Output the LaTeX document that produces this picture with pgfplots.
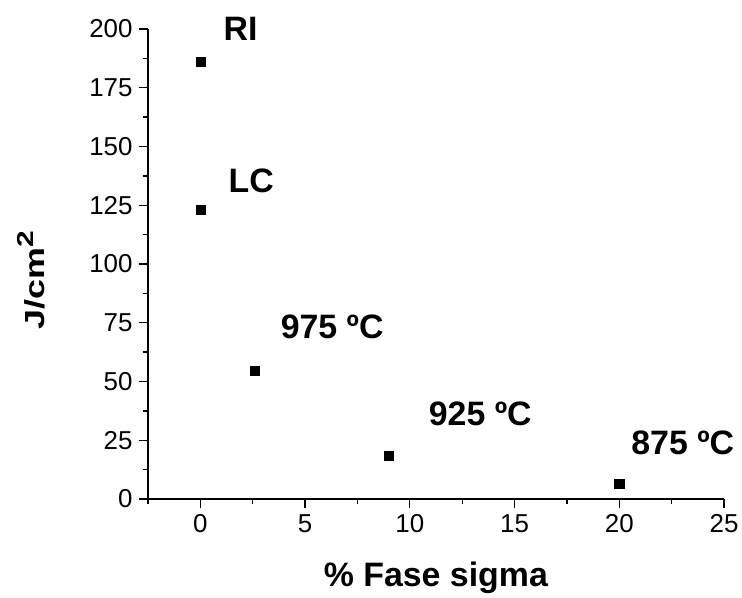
\documentclass[border=0pt]{standalone}
\usepackage{fontspec}
\setmainfont{Liberation Sans}
\usepackage{graphicx}
\usepackage{pgfplots}
\pgfplotsset{compat=1.18}

\begin{document}
\begin{tikzpicture}
\begin{axis}[
  scale only axis,
  width=576bp, height=470bp,
  at={(0,0)}, anchor=south west,
  xmin=-2.5, xmax=25,
  ymin=0, ymax=200,
  axis x line*=bottom,
  axis y line*=left,
  axis line style={line width=1.3bp, -},
  tick align=outside,
  xtick={0,5,...,25},
  ytick={0,25,...,200},
  minor xtick={-2.5,2.5,7.5,12.5,17.5,22.5},
  minor ytick={12.5,37.5,62.5,87.5,112.5,137.5,162.5,187.5},
  major tick length=9bp,
  minor tick length=5bp,
  every tick/.style={line width=1.3bp, black},
  tick label style={font=\fontsize{26}{30}\selectfont},
  /pgf/number format/assume math mode=true,
  xticklabel style={yshift=-3bp},
  yticklabel style={xshift=-3bp},
  xlabel={\textbf{\% Fase sigma}},
  ylabel={\scalebox{1}[0.77]{\fontsize{36}{42}\selectfont\bfseries J/cm\raisebox{14bp}{\fontsize{30}{36}\selectfont 2}}},
  label style={font=\fontsize{34}{40}\selectfont},
  xlabel style={at={(axis description cs:0.5,-0.187)}, anchor=base},
  ylabel style={at={(axis description cs:-0.203,0.466)}, anchor=center},
  clip=false,
]
\addplot[only marks, mark=square*, mark size=4.6bp, black] coordinates {
  (0,186) (0,123) (2.6,54.5) (9.0,18.3) (20,6.4)
};
\node[font=\fontsize{34}{40}\selectfont\bfseries, anchor=base west, inner sep=0pt] at (axis cs:1.10,195.3) {RI};
\node[font=\fontsize{34}{40}\selectfont\bfseries, anchor=base west, inner sep=0pt] at (axis cs:1.34,130.6) {LC};
\node[font=\fontsize{34}{40}\selectfont\bfseries, anchor=base west, inner sep=0pt] at (axis cs:3.83,68.5) {975 ºC};
\node[font=\fontsize{34}{40}\selectfont\bfseries, anchor=base west, inner sep=0pt] at (axis cs:10.9,31.1) {925 ºC};
\node[font=\fontsize{34}{40}\selectfont\bfseries, anchor=base west, inner sep=0pt] at (axis cs:20.57,19.1) {875 ºC};
\end{axis}
\path[use as bounding box] (-148bp,-94bp) rectangle (594bp,499bp);
\end{tikzpicture}
\end{document}
